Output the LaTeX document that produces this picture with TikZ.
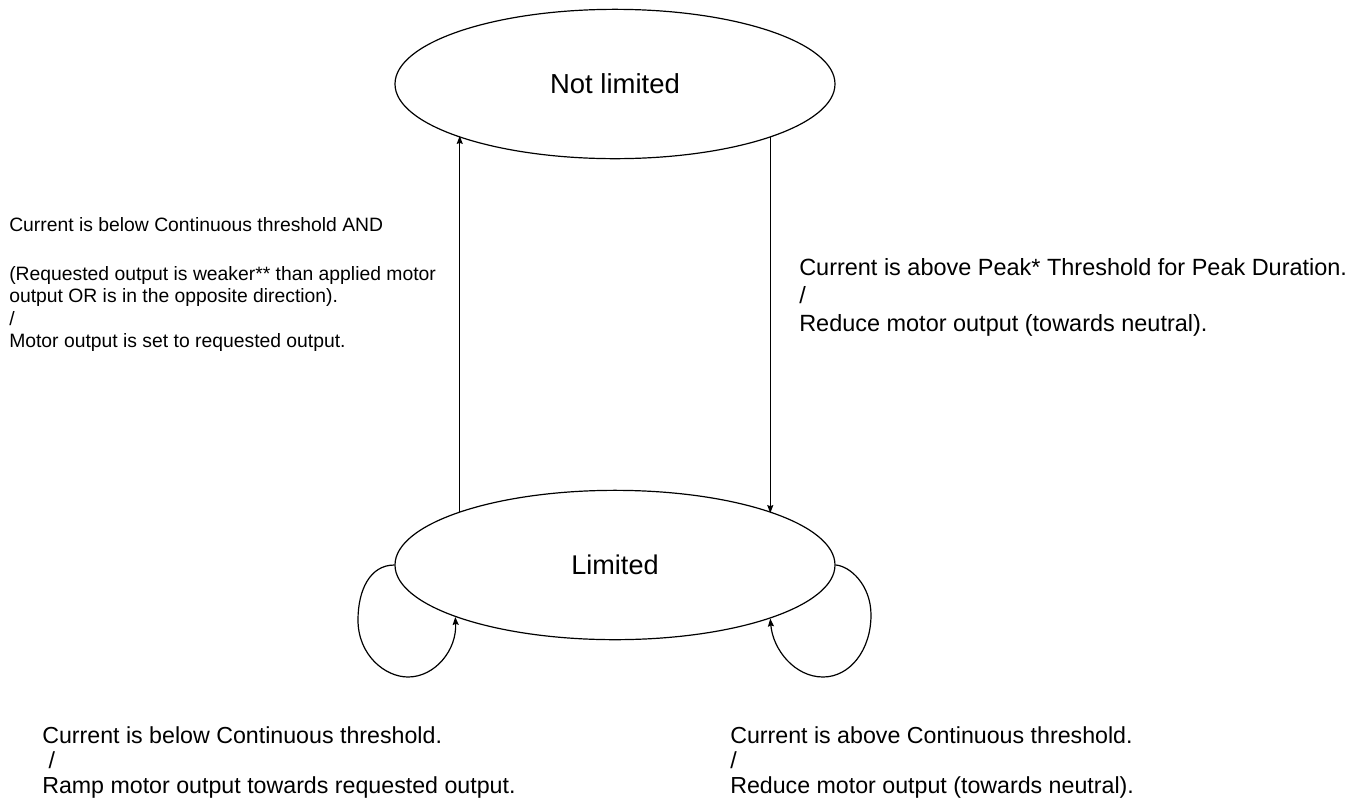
\documentclass[tikz,border=0pt]{standalone}
\usepackage{fontspec}
\setmainfont{Liberation Sans}
\usetikzlibrary{arrows.meta,shapes.geometric}
\tikzset{
  state/.style={draw, ellipse, line width=0.9pt, minimum width=330pt, minimum height=112pt, inner sep=0pt},
  arr/.style={line width=0.8pt, -{Stealth[length=6pt, width=4.5pt, inset=0.8pt]}},
  loopline/.style={line width=0.9pt, -{Stealth[length=6pt, width=4.5pt, inset=0.8pt]}},
  lbl/.style={anchor=north west, inner sep=0pt, align=left},
}
\begin{document}
\begin{tikzpicture}[x=0.75pt, y=-0.75pt]
\useasboundingbox (0,0) rectangle (1364,804);
\node[state, font={\fontsize{20.6}{24}\selectfont}] (T) at (615,84) {Not limited};
\node[state, font={\fontsize{20.3}{24}\selectfont}] (L) at (615,565) {Limited};

\draw[arr] (L.161.24) -- (L.161.24 |- T.198.76);
\draw[arr] (T.341.24) -- (T.341.24 |- L.18.76);

\draw[loopline] (L.west) .. controls (370,565) and (358,590) .. (358,620)
  .. controls (358,655) and (385,677) .. (408,677)
  .. controls (435,677) and (457,650) .. (L.198.76);
\draw[loopline] (L.east) .. controls (850,566) and (871,585) .. (871,615)
  .. controls (871,650) and (850,677) .. (823,677)
  .. controls (795,677) and (773,650) .. (L.341.24);

\node[lbl, font={\fontsize{14.5}{16.7}\selectfont}] (tl) at (9,217)
  {Current is below Continuous threshold AND\\[20.3pt]
   (Requested output is weaker** than applied motor\\
   output OR is in the opposite direction).\\
   /\\
   Motor output is set to requested output.};
\node[lbl, font={\fontsize{17.6}{21}\selectfont}] (tr) at (799,258)
  {Current is above Peak* Threshold for Peak Duration.\\
   /\\
   Reduce motor output (towards neutral).};
\node[lbl, font={\fontsize{17.4}{18.75}\selectfont}] (bl) at (42,726)
  {Current is below Continuous threshold.\\
   \ /\\
   Ramp motor output towards requested output.};
\node[lbl, font={\fontsize{17.4}{18.75}\selectfont}] (br) at (730,726)
  {Current is above Continuous threshold.\\
   /\\
   Reduce motor output (towards neutral).};
\end{tikzpicture}
\end{document}
